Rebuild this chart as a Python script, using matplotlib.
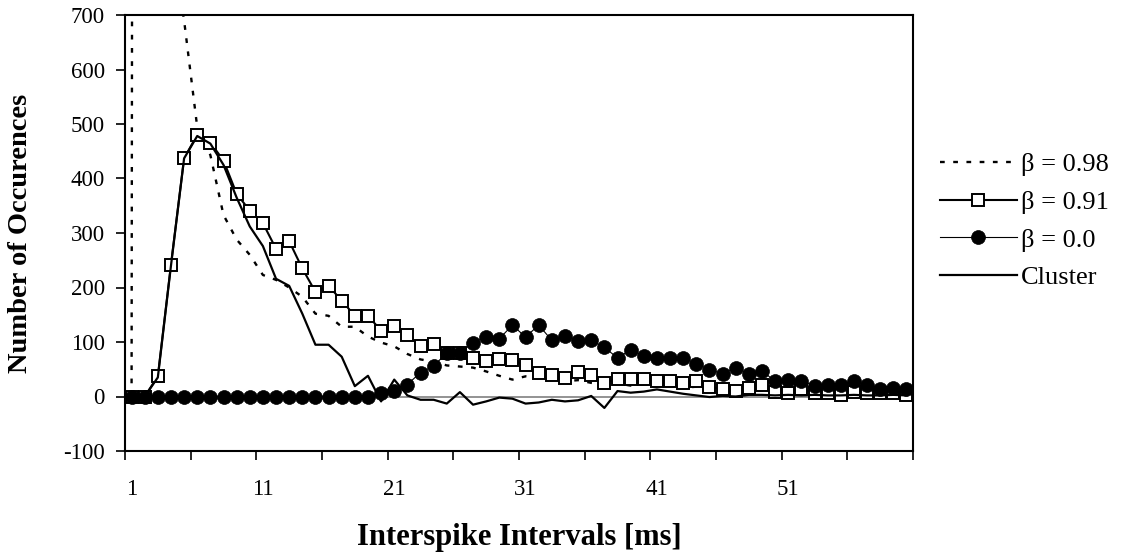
import matplotlib
matplotlib.use('Agg')
import matplotlib.pyplot as plt
import numpy as np

# interval categories 1..60 (ms)
intervals = np.arange(1, 61)

beta_098 = [0, 20000, 3000, 850, 690, 494, 443, 333, 288, 260,
            223, 214, 200, 183, 152, 148, 128, 128, 110, 99,
            92, 78, 68, 64, 57, 55, 53, 46, 38, 31,
            37, 33, 30, 28, 30, 25, 22, 24, 20, 22,
            18, 20, 16, 18, 14, 14, 12, 13, 11, 10,
            9, 10, 8, 8, 7, 7, 6, 6, 5, 5]

beta_091 = [0, 0, 37, 242, 437, 480, 466, 433, 372, 341,
            318, 271, 285, 235, 192, 203, 176, 148, 148, 121,
            130, 112, 93, 97, 79, 79, 70, 65, 68, 67,
            57, 44, 40, 34, 45, 40, 24, 33, 33, 33,
            28, 28, 24, 28, 17, 14, 10, 16, 22, 8,
            6, 13, 7, 7, 3, 8, 6, 6, 6, 2]

beta_000 = [0, 0, 0, 0, 0, 0, 0, 0, 0, 0,
            0, 0, 0, 0, 0, 0, 0, 0, 0, 7,
            11, 22, 44, 56, 80, 80, 99, 109, 106, 131,
            109, 131, 103, 111, 102, 103, 90, 71, 86, 74,
            71, 71, 71, 60, 49, 42, 52, 42, 47, 28,
            30, 28, 20, 22, 22, 28, 21, 13, 16, 14]

cluster = [0, 0, 35, 240, 437, 478, 464, 425, 365, 312,
           276, 216, 203, 152, 95, 95, 73, 19, 38, -9,
           31, 2, -6, -6, -13, 8, -15, -9, -2, -4,
           -13, -11, -6, -9, -7, 1, -21, 10, 7, 9,
           13, 9, 5, 2, -1, 1, 0, 3, 3, 2,
           3, 2, 3, 2, 2, 3, 2, 2, 3, 2]

x_labels = ['1', '11', '21', '31', '41', '51']

plt.rcParams['font.family'] = ['Liberation Serif', 'DejaVu Serif']
plt.rcParams['axes.unicode_minus'] = False

fig = plt.figure(figsize=(11.26, 5.59), dpi=100)
ax = fig.add_axes([125/1126, 1 - 451/559, (913-125)/1126, (451-15)/559])

ax.axhline(0, color='#808080', lw=1.2, zorder=1)

ax.plot(intervals, beta_098, color='black', lw=1.7, linestyle=(0, (2.0, 3.6)),
        label='β = 0.98', zorder=2)
ax.plot(intervals, beta_091, color='black', lw=1.5, marker='s', markersize=8.5,
        markerfacecolor='white', markeredgecolor='black', markeredgewidth=1.4,
        label='β = 0.91', zorder=3)
ax.plot(intervals, beta_000, color='black', lw=0.8, marker='o', markersize=10,
        markerfacecolor='black', markeredgecolor='black', markeredgewidth=0.5,
        label='β = 0.0', zorder=4)
ax.plot(intervals, cluster, color='black', lw=1.6, label='Cluster', zorder=5)

ax.set_xlim(0.5, 60.5)
ax.set_ylim(-100, 700)
ax.set_yticks(np.arange(-100, 701, 100))

# tick marks between categories, labels centred on categories
ax.set_xticks(np.arange(0.5, 61, 5))
ax.set_xticklabels([])
ax.set_xticks([int(s) for s in x_labels], minor=True)
ax.set_xticklabels(x_labels, minor=True)
ax.tick_params(axis='x', which='major', direction='out', length=6.5, width=1.2)
ax.tick_params(axis='x', which='minor', length=0, pad=20, labelsize=16.5)
ax.tick_params(axis='y', direction='out', length=6.5, width=1.2, pad=8, labelsize=16.5)

for s in ax.spines.values():
    s.set_linewidth(1.5)

fig.text(519/1126, 1 - 537/559, 'Interspike Intervals [ms]', ha='center', va='center',
         fontsize=22, fontweight='bold')
fig.text(21/1126, 1 - 233/559, 'Number of Occurences', ha='center', va='center',
         rotation=90, fontsize=20.5, fontweight='bold')

fig.legend(loc='center left', bbox_to_anchor=(927/1126, 1 - 221/559), frameon=False,
           fontsize=19, handlelength=2.9, handletextpad=0.15, labelspacing=0.54,
           borderpad=0)

fig.savefig('out.png', dpi=100)
